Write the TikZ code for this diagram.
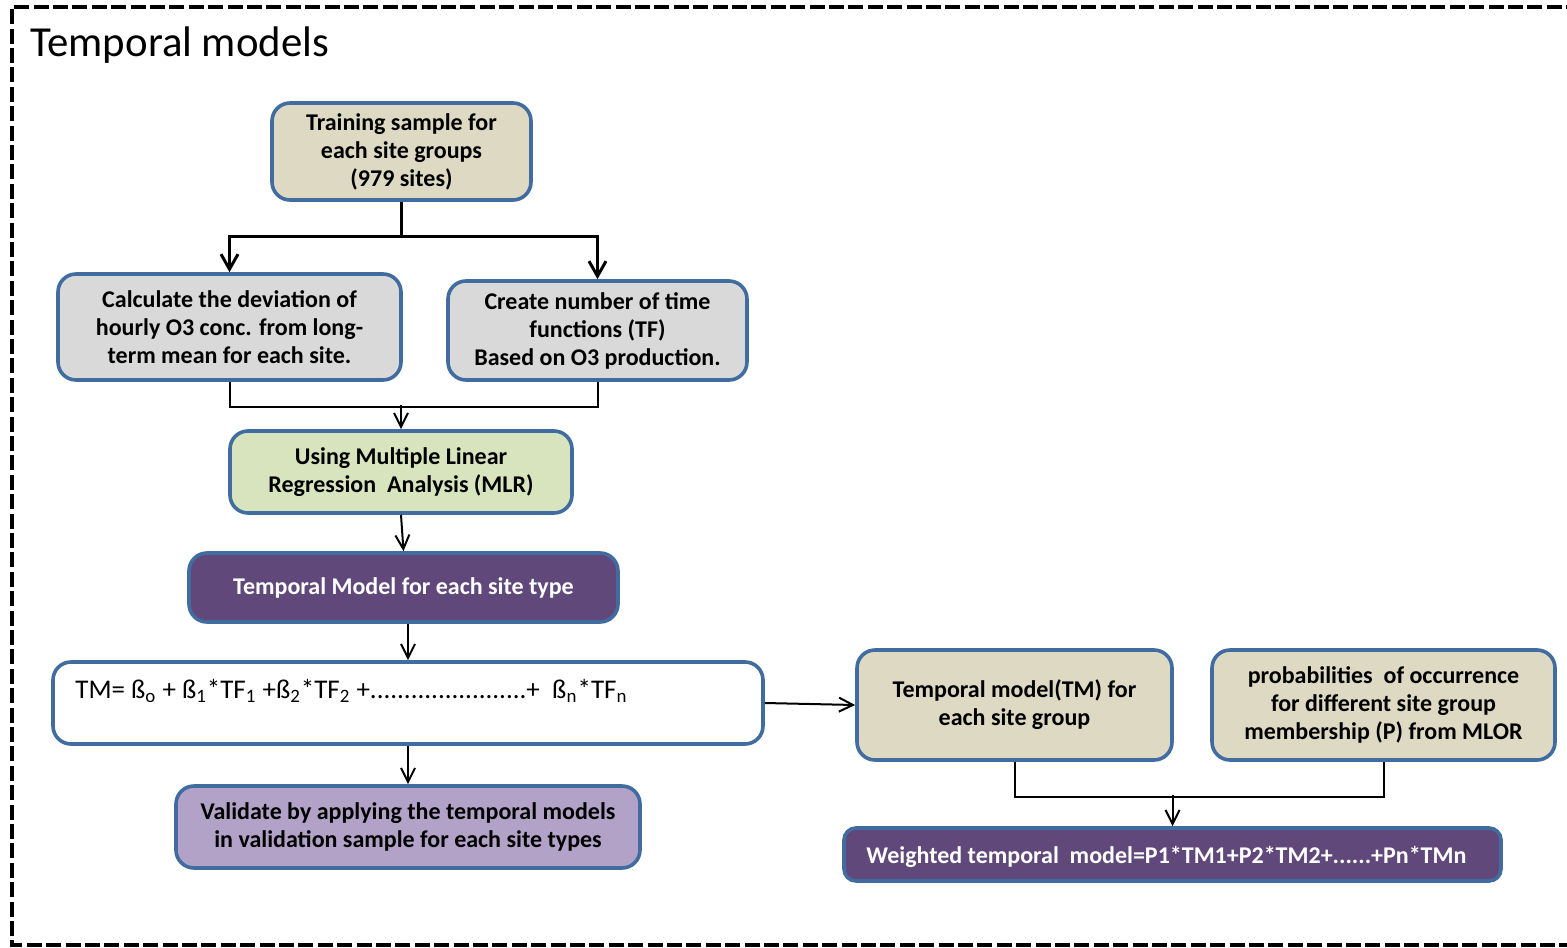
\documentclass[tikz,border=0pt]{standalone}
\usepackage{fontspec}
\setmainfont{Carlito}
\usetikzlibrary{arrows.meta}
\definecolor{bordc}{RGB}{65,108,160}
\definecolor{tanc}{RGB}{221,217,195}
\definecolor{greyc}{RGB}{217,217,217}
\definecolor{greenc}{RGB}{215,228,189}
\definecolor{purpc}{RGB}{96,73,122}
\definecolor{lavc}{RGB}{179,162,199}
\begin{document}
\begin{tikzpicture}[x=0.5pt,y=-0.5pt,
  box/.style={draw=bordc, line width=1.8pt, rounded corners=9pt, inner sep=0pt, align=center,
    font=\bfseries\fontsize{12}{14}\selectfont},
  conn/.style={line width=1pt, -{Straight Barb[length=7pt,width=7pt]}},
  thickconn/.style={line width=1.5pt, -{Straight Barb[length=7.5pt,width=8.5pt]}},
  joinline/.style={line width=1pt},
  frame/.style={line width=1.9pt, dash pattern=on 7.5pt off 2.2pt}]
\useasboundingbox (0,0) rectangle (1567,947);
\clip (0,0) rectangle (1567,947);
\draw[frame] (1620,7) -- (12,7) -- (12,945) -- (1620,945);
\node[anchor=base west, inner sep=0pt, font=\fontsize{21.4}{25}\selectfont] (title) at (30,57) {Temporal models};

\node[box, fill=tanc, minimum width=129.5pt, minimum height=48.5pt] (train) at (401.5,151.5)
  {Training sample for\\ each site groups\\ (979 sites)};
\node[box, fill=greyc, minimum width=171.5pt, minimum height=53pt] (calc) at (229.5,327)
  {Calculate the deviation of\\ hourly O3 conc. from long-\\ term mean for each site.};
\node[box, fill=greyc, minimum width=149.5pt, minimum height=49.5pt] (create) at (597.5,330.5)
  {Create number of time\\ functions (TF)\\ Based on O3 production.};
\node[box, fill=greenc, minimum width=171pt, minimum height=41pt] (mlr) at (401,472)
  {Using Multiple Linear\\ Regression\ \ Analysis (MLR)};
\node[box, fill=purpc, text=white, minimum width=214.5pt, minimum height=34.5pt] (tmsite) at (403.5,587.5)
  {Temporal Model for each site type};
\node[box, fill=white, minimum width=355pt, minimum height=41pt] (tm) at (408,703) {};
\node[anchor=base west, inner sep=0pt, font=\fontsize{13.5}{16}\selectfont] (tmtext) at (75,698)
  {TM= ß\textsubscript{o} + ß\textsubscript{1}*TF\textsubscript{1} +ß\textsubscript{2}*TF\textsubscript{2} +.......................+\ \ ß\textsubscript{n}*TF\textsubscript{n}};
\node[box, fill=lavc, minimum width=232pt, minimum height=41pt] (val) at (408,827)
  {Validate by applying the temporal models\\ in validation sample for each site types};
\node[box, fill=tanc, minimum width=157.5pt, minimum height=55pt] (tmg) at (1014.5,705)
  {Temporal model(TM) for\\ each site group};
\node[box, fill=tanc, minimum width=171.5pt, minimum height=55pt] (prob) at (1383.5,705)
  {probabilities\ \ of occurrence\\ for different site group\\ membership (P) from MLOR};
\node[box, fill=purpc, rounded corners=6pt, minimum width=328.5pt, minimum height=26.5pt] (wt) at (1172.5,854.5) {};
\node[anchor=base west, inner sep=0pt, text=white, font=\bfseries\fontsize{12}{14}\selectfont] (wttext) at (866,863)
  {Weighted temporal\ \ model=P1*TM1+P2*TM2+......+Pn*TMn};

\draw[thickconn] (train.south) -- ++(0,35) -| (calc.north);
\draw[thickconn] (train.south) -- ++(0,35) -| (create.north);
\draw[joinline] (calc.south) -- ++(0,25) -| (create.south);
\coordinate (m1) at (401,405);
\draw[conn] (m1) -- (mlr.north);
\draw[conn] (mlr.south) -- (tmsite.north);
\draw[conn] (tmsite.south -| tm.north) -- (tm.north);
\draw[conn] (tm.south) -- (val.north);
\draw[conn] (tm.east) -- (tmg.west);
\draw[joinline] (tmg.south) -- ++(0,35) -| (prob.south);
\coordinate (m2) at (1172.5,795);
\draw[conn] (m2) -- (wt.north);
\end{tikzpicture}
\end{document}
